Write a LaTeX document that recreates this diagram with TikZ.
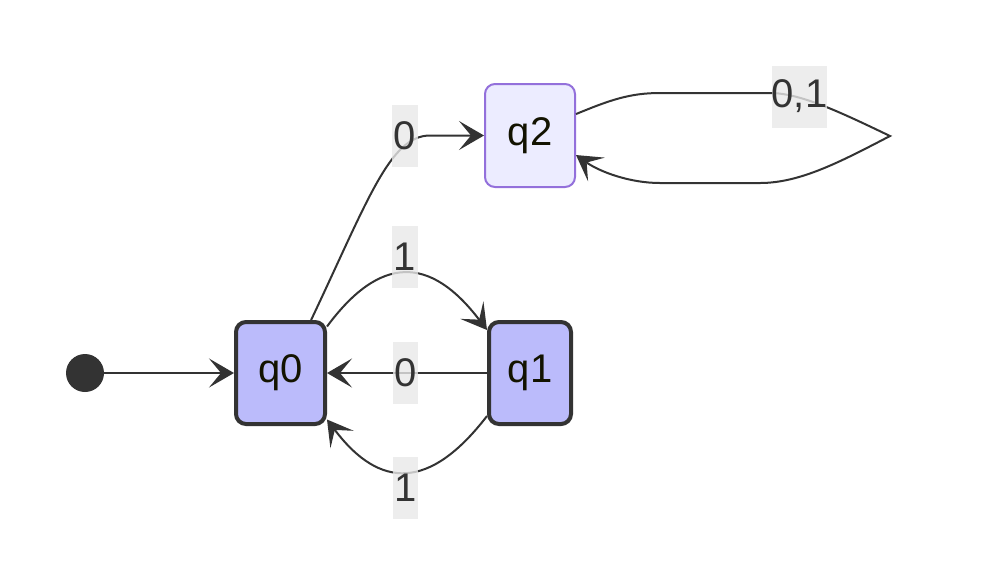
\documentclass[tikz,border=0pt]{standalone}
\usepackage{fontspec}
\setmainfont{Liberation Sans}
\usetikzlibrary{arrows.meta}
\definecolor{statefill}{HTML}{BBBBFB}
\definecolor{stateline}{HTML}{333333}
\definecolor{lastfill}{HTML}{ECECFF}
\definecolor{lastline}{HTML}{9370DB}
\definecolor{lblfill}{HTML}{E8E8E8}
\definecolor{statetext}{HTML}{131300}
\begin{document}
\begin{tikzpicture}[x=0.5pt, y=-0.5pt,
    every node/.style={font=\fontsize{20}{24}\selectfont},
    state/.style={draw=stateline, fill=statefill, line width=2pt, rounded corners=5pt, minimum height=51pt, text=statetext},
    plainstate/.style={draw=lastline, fill=lastfill, line width=1pt, rounded corners=5pt, minimum width=45pt, minimum height=51.5pt, text=statetext},
    edge/.style={draw=stateline, line width=1pt, -{Stealth[length=12.5pt, width=14.5pt, inset=6pt]}},
    lbl/.style={fill=lblfill, fill opacity=0.8, text opacity=1, text=stateline, inner xsep=0.7pt, minimum height=31pt}]
    \useasboundingbox (0,0) rectangle (1000,580);

    \node[circle, fill=stateline, minimum size=19pt, inner sep=0pt] (start) at (85,373) {};
    \node[state, minimum width=44.5pt] (q0) at (280.5,373) {q0};
    \node[state, minimum width=41pt] (q1) at (530,373) {q1};
    \node[plainstate] (q2) at (530,135.5) {q2};
    \coordinate (turn) at (890,136);

    \draw[edge] (start) -- (q0);
    \draw[edge] (q0.60) .. controls (368,200) and (390,135.5) .. (430,135.5) -- (q2.west);
    \draw[edge] (q0.45) .. controls (380,255) and (430,255) .. (q1.135);
    \draw[edge] (q1) -- (q0);
    \draw[edge] (q1.-135) .. controls (430,490) and (380,490) .. (q0.-45);
    \draw[edge] (q2.25) .. controls (610,100) and (630,93) .. (660,93) -- (770,93)
        .. controls (800,93) and (840,112) .. (turn)
        .. controls (840,162) and (800,183) .. (760,183) -- (660,183)
        .. controls (630,183) and (600,172) .. (q2.-23);

    \node[lbl] (l02) at (405,135.5) {0};
    \node[lbl] (l01) at (405,257) {1};
    \node[lbl] (l10) at (405.5,372.5) {0};
    \node[lbl] (l11) at (405.5,487.5) {1};
    \node[lbl, inner xsep=0pt] (l22) at (799.5,96.5) {0,1};
\end{tikzpicture}
\end{document}
